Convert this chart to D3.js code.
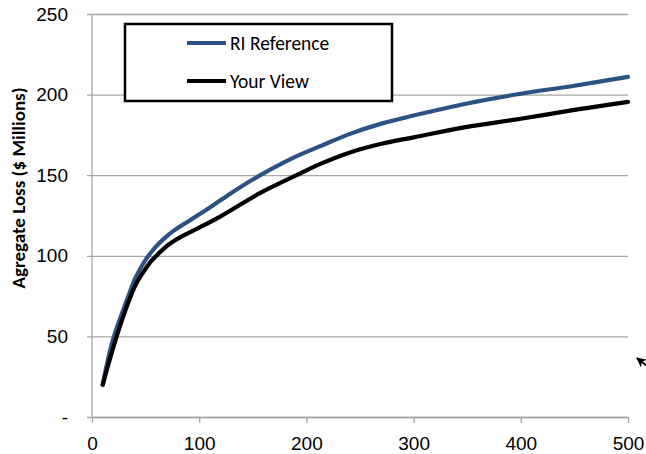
<!DOCTYPE html>
<html>
<head>
<meta charset="utf-8">
<script src="https://cdn.jsdelivr.net/npm/d3@7"></script>
<style>
  body { margin: 0; background: #fff; }
  svg { display: block; font-family: Carlito, Calibri, Lato, sans-serif; }
</style>
</head>
<body>
<div id="chart-container"></div>
<script>
// values
const riX = [10, 15, 20, 30, 35, 40, 45, 50, 55, 60, 67, 75, 90, 110, 130, 157, 190, 213, 240, 270, 300, 350, 400, 450, 500];
const riY = [20, 36, 49, 68, 77, 85.5, 92, 97.5, 102, 106, 110.5, 115, 121.5, 130, 139, 150, 161.5, 168, 175.5, 182, 187, 194.5, 200.5, 205.5, 211];
const viewX = [10, 15, 23, 30, 35, 40, 45, 50, 55, 60, 67, 75, 85, 100, 120, 157, 194, 213, 240, 270, 300, 350, 400, 450, 500];
const viewY = [20, 32, 50, 64, 73, 81, 87, 92, 96.5, 100, 104.5, 108.5, 112.5, 117.5, 124.5, 139, 151, 157, 164, 169.5, 173.5, 180, 185, 190.5, 195.5];
const seriesNames = ["RI Reference", "Your View"];
const xTicks = [0, 100, 200, 300, 400, 500];
const yTicks = [0, 50, 100, 150, 200, 250];

const width = 646;
const height = 454;
const marginTop = 14;
const marginRight = 18;
const marginBottom = 37;
const marginLeft = 92;

const colors = ["#2c5283", "#000000"];

const series = [
  { name: seriesNames[0], points: riX.map((x, i) => [x, riY[i]]) },
  { name: seriesNames[1], points: viewX.map((x, i) => [x, viewY[i]]) },
];

const x = d3.scaleLinear([0, 500], [marginLeft, width - marginRight]);
const y = d3.scaleLinear([0, 250], [height - marginBottom, marginTop]);

const svg = d3
  .select("#chart-container")
  .append("svg")
  .attr("width", width)
  .attr("height", height)
  .attr("viewBox", [0, 0, width, height]);

// horizontal gridlines + y labels
const yAxis = svg
  .append("g")
  .attr("transform", `translate(${marginLeft},0)`)
  .call(
    d3.axisLeft(y)
      .tickValues(yTicks)
      .tickSize(-(width - marginRight - marginLeft))
      .tickPadding(24)
      .tickFormat((d) => (d === 0 ? "-" : d))
  );
yAxis.select(".domain").remove();
yAxis.selectAll(".tick line")
  .attr("x1", -5)
  .attr("stroke", "#a6a6a6")
  .attr("stroke-width", 1.3);
yAxis.selectAll(".tick text")
  .attr("font-size", 19)
  .attr("fill", "#000");

// vertical axis line
svg.append("line")
  .attr("x1", marginLeft).attr("x2", marginLeft)
  .attr("y1", y(250)).attr("y2", y(0))
  .attr("stroke", "#a6a6a6")
  .attr("stroke-width", 1.3);

// x axis
const xAxis = svg
  .append("g")
  .attr("transform", `translate(0,${y(0)})`)
  .call(d3.axisBottom(x).tickValues(xTicks).tickSize(6).tickSizeOuter(0).tickPadding(14));
xAxis.select(".domain").attr("stroke", "#a6a6a6").attr("stroke-width", 1.3);
xAxis.selectAll(".tick line").attr("stroke", "#a6a6a6").attr("stroke-width", 1.3);
xAxis.selectAll(".tick text").attr("font-size", 19).attr("fill", "#000");

// y axis title
svg.append("text")
  .attr("transform", `translate(18,188) rotate(-90)`)
  .attr("text-anchor", "middle")
  .attr("dy", "0.35em")
  .attr("font-size", 19)
  .attr("font-weight", "bold")
  .text("Agregate Loss ($ Millions)");

// lines
const line = d3.line()
  .x((d) => x(d[0]))
  .y((d) => y(d[1]))
  .curve(d3.curveCatmullRom.alpha(0.5));

svg.append("g")
  .selectAll("path")
  .data(series)
  .join("path")
  .attr("fill", "none")
  .attr("stroke", (d, i) => colors[i])
  .attr("stroke-width", 4.2)
  .attr("stroke-linecap", "round")
  .attr("d", (d) => line(d.points));

// legend
const legend = svg.append("g").attr("transform", "translate(125,24)");
legend.append("rect")
  .attr("width", 267)
  .attr("height", 77)
  .attr("fill", "#fff")
  .attr("stroke", "#000")
  .attr("stroke-width", 2.5);

const item = legend
  .selectAll("g")
  .data(seriesNames)
  .join("g")
  .attr("transform", (d, i) => `translate(0,${19 + i * 38})`);
item.append("line")
  .attr("x1", 62).attr("x2", 101)
  .attr("stroke", (d, i) => colors[i])
  .attr("stroke-width", 4);
item.append("text")
  .attr("x", 105)
  .attr("dy", "0.35em")
  .attr("font-size", 19.5)
  .text((d) => d);

// stray arrow at the right edge
svg.append("defs")
  .append("marker")
  .attr("id", "arrow")
  .attr("viewBox", "0 0 10 10")
  .attr("refX", 9).attr("refY", 5)
  .attr("markerWidth", 5).attr("markerHeight", 5)
  .attr("orient", "auto")
  .append("path")
  .attr("d", "M0,0L10,5L0,10L3,5Z")
  .attr("fill", "#000");
svg.append("line")
  .attr("x1", 662).attr("y1", 378)
  .attr("x2", 637).attr("y2", 358)
  .attr("stroke", "#000")
  .attr("stroke-width", 2)
  .attr("marker-end", "url(#arrow)");
</script>
</body>
</html>
